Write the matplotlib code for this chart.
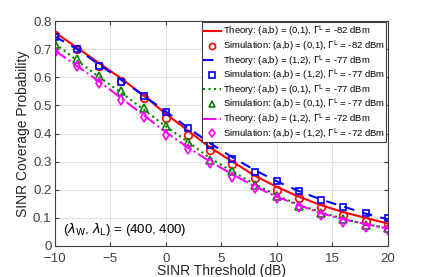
import numpy as np
import matplotlib.pyplot as plt

plt.rcParams['font.family'] = ['Liberation Sans', 'DejaVu Sans']

# SINR threshold (dB)
sinr_db = [-10, -8, -6, -4, -2, 0, 2, 4, 6, 8, 10, 12, 14, 16, 18, 20]

# theory curves
th_01_82 = [0.760, 0.705, 0.650, 0.595, 0.535, 0.470, 0.410, 0.350, 0.300, 0.250, 0.210, 0.175, 0.145, 0.120, 0.100, 0.080]
th_12_77 = [0.745, 0.700, 0.645, 0.590, 0.535, 0.478, 0.420, 0.365, 0.315, 0.270, 0.230, 0.195, 0.165, 0.140, 0.115, 0.095]
th_01_77 = [0.720, 0.660, 0.600, 0.545, 0.485, 0.425, 0.370, 0.312, 0.265, 0.220, 0.180, 0.146, 0.120, 0.096, 0.078, 0.063]
th_12_72 = [0.695, 0.640, 0.585, 0.525, 0.465, 0.405, 0.350, 0.300, 0.255, 0.212, 0.175, 0.145, 0.116, 0.095, 0.078, 0.062]

# simulation points
sim_01_82 = [0.750, 0.700, 0.640, 0.588, 0.525, 0.455, 0.395, 0.342, 0.291, 0.241, 0.199, 0.170, 0.140, 0.110, 0.090, 0.077]
sim_12_77 = [0.745, 0.700, 0.640, 0.585, 0.535, 0.475, 0.420, 0.360, 0.308, 0.262, 0.231, 0.196, 0.164, 0.138, 0.116, 0.098]
sim_01_77 = [0.720, 0.665, 0.605, 0.550, 0.490, 0.425, 0.370, 0.306, 0.265, 0.218, 0.178, 0.142, 0.116, 0.095, 0.075, 0.063]
sim_12_72 = [0.690, 0.640, 0.580, 0.520, 0.460, 0.395, 0.345, 0.295, 0.244, 0.205, 0.170, 0.140, 0.110, 0.086, 0.069, 0.057]

g = r'$\Gamma^{\mathrm{L}}$'

fig = plt.figure(figsize=(4.29, 2.77), dpi=100)
ax = fig.add_axes([0.128, 0.112, 0.776, 0.812])

ms = dict(mfc='none', mew=1.2)
ax.plot(sinr_db, th_01_82, '-', color='red', lw=1.5, label=f'Theory: (a,b) = (0,1), {g} = -82 dBm')
ax.plot(sinr_db, sim_01_82, 'o', color='red', ms=5.5, **ms, label=f'Simulation: (a,b) = (0,1), {g} = -82 dBm')
ax.plot(sinr_db, th_12_77, '--', color='blue', lw=1.5, dashes=(5, 4), label=f'Theory: (a,b) = (1,2), {g} = -77 dBm')
ax.plot(sinr_db, sim_12_77, 's', color='blue', ms=5, **ms, label=f'Simulation: (a,b) = (1,2), {g} = -77 dBm')
ax.plot(sinr_db, th_01_77, ':', color='green', lw=1.5, label=f'Theory: (a,b) = (0,1), {g} = -77 dBm')
ax.plot(sinr_db, sim_01_77, '^', color='green', ms=5.5, **ms, label=f'Simulation: (a,b) = (0,1), {g} = -77 dBm')
ax.plot(sinr_db, th_12_72, '-.', color='magenta', lw=1.5, label=f'Theory: (a,b) = (1,2), {g} = -72 dBm')
ax.plot(sinr_db, sim_12_72, 'd', color='magenta', ms=5.5, **ms, label=f'Simulation: (a,b) = (1,2), {g} = -72 dBm')

ax.set_xlim(-10, 20)
ax.set_ylim(0, 0.8)
ax.set_xticks([-10, -5, 0, 5, 10, 15, 20])
ax.set_yticks(np.arange(0, 0.81, 0.1))
ax.set_yticklabels(['0', '0.1', '0.2', '0.3', '0.4', '0.5', '0.6', '0.7', '0.8'])
ax.tick_params(direction='in', labelsize=9.5, colors='#404040', length=3, top=True, right=True)
ax.tick_params(axis='x', pad=5)
ax.tick_params(axis='y', pad=2.5)
for s in ax.spines.values():
    s.set_color('#404040')
ax.grid(True, color='#e0e0e0', lw=0.8)

ax.set_xlabel('SINR Threshold (dB)', fontsize=10, color='#262626', labelpad=-1)
ax.set_ylabel('SINR Coverage Probability', fontsize=10, color='#262626', labelpad=2)

ax.text(-9.3, 0.06, r'($\lambda_{\mathrm{W}}$, $\lambda_{\mathrm{L}}$) = (400, 400)', fontsize=9.5,
        color='black', va='center')

leg = ax.legend(loc='upper right', fontsize=6.8, handlelength=1.9, handletextpad=0.2,
                borderpad=0.15, labelspacing=0.0, borderaxespad=0.15, fancybox=False,
                framealpha=1, edgecolor='#404040', markerscale=0.8)
leg.get_frame().set_linewidth(0.8)

fig.savefig('out.png', dpi=100)
